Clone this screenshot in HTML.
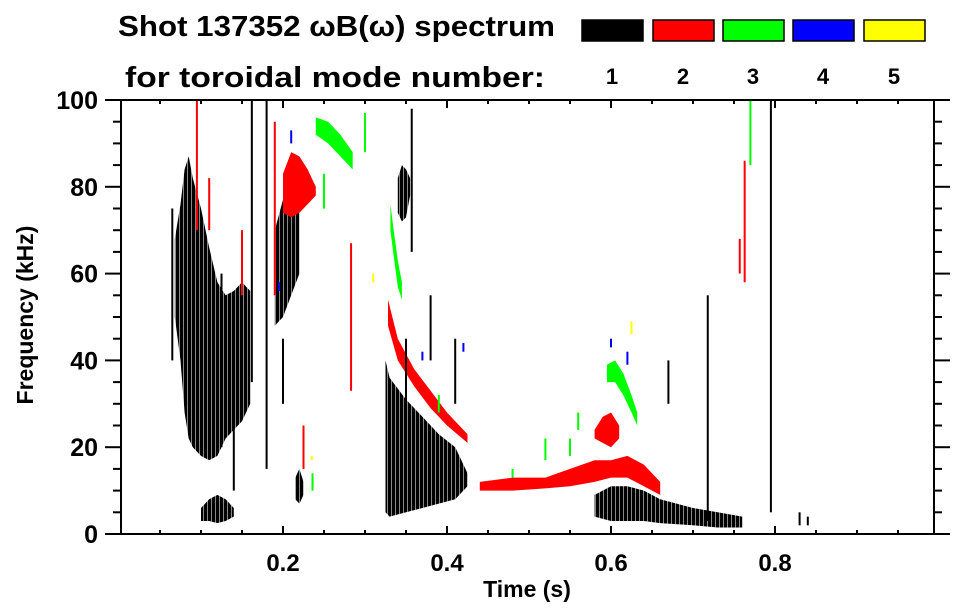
<!DOCTYPE html>
<html><head><meta charset="utf-8"><style>
html,body{margin:0;padding:0;background:#fff;}
svg{display:block;font-family:"Liberation Sans",sans-serif;font-weight:bold;}
</style></head><body>
<svg id="chart" width="963" height="615" viewBox="0 0 963 615">
<defs>
<pattern id="streakK" width="4" height="8" patternUnits="userSpaceOnUse"><rect x="0" y="0" width="3" height="8" fill="#000"/><rect x="3" y="0" width="1" height="8" fill="#888"/></pattern>
</defs>
<text x="118" y="36" font-size="29" textLength="437" lengthAdjust="spacingAndGlyphs">Shot 137352 ωB(ω) spectrum</text>
<text x="125" y="87" font-size="29" textLength="420" lengthAdjust="spacingAndGlyphs">for toroidal mode number:</text>
<g id="legend"></g>
<g id="marks"></g>
<g id="axes"></g>
<text x="527" y="597" font-size="23" text-anchor="middle">Time (s)</text>
<text transform="translate(33,315) rotate(-90)" font-size="23" text-anchor="middle">Frequency (kHz)</text>
</svg>
<script>
const modeNums=[1,2,3,4,5];
const modeColors=['#000000','#ff0000','#00ff00','#0000ff','#ffff00'];
const xTicks=[0.2,0.4,0.6,0.8];
const yTicks=[0,20,40,60,80,100];
// bands: times, lower freq, upper freq, mode
const b1T=[0.068,0.075,0.08,0.085,0.09,0.1,0.11,0.12,0.13,0.14,0.15,0.16];
const b1Lo=[50,40,28,22,20,18,17,18,22,24,26,30];
const b1Hi=[68,76,84,87,82,75,66,58,55,56,58,56];
const b2T=[0.19,0.2,0.21,0.22];
const b2Lo=[48,50,55,60];
const b2Hi=[70,77,78,75];
const b3T=[0.1,0.11,0.12,0.13,0.14];
const b3Lo=[3,3,2.5,3,4];
const b3Hi=[6,8,9,8,6];
const b4T=[0.325,0.33,0.35,0.37,0.39,0.41,0.425];
const b4Lo=[5,4,5,6,7,8,11];
const b4Hi=[40,36,31,27,23,20,14];
const b5T=[0.34,0.345,0.35,0.355];
const b5Lo=[74,72,73,78];
const b5Hi=[82,85,84,82];
const b6T=[0.58,0.6,0.62,0.64,0.66,0.7,0.73,0.76];
const b6Lo=[4,3,3,3,2.5,2,1.5,1.5];
const b6Hi=[9,11,11,10,8,6,5,4];
const b7T=[0.215,0.22,0.225];
const b7Lo=[8,7,9];
const b7Hi=[13,15,12];
const r1T=[0.2,0.21,0.22,0.23,0.24];
const r1Lo=[74,73,74,76,78];
const r1Hi=[83,88,87,84,80];
const r2T=[0.328,0.34,0.36,0.38,0.4,0.425];
const r2Lo=[48,40,34,29,25,21];
const r2Hi=[54,45,38,33,28,23];
const r3T=[0.44,0.48,0.52,0.55,0.58,0.6,0.62,0.64,0.66];
const r3Lo=[10,10,10.5,11,12,13,13,11,9];
const r3Hi=[12,13,13,15,17,17,18,16,12];
const r4T=[0.58,0.59,0.6,0.61];
const r4Lo=[22,21,20,22];
const r4Hi=[24,27,28,25];
const g1T=[0.24,0.255,0.27,0.285];
const g1Lo=[92,90,87,84];
const g1Hi=[96,95,92,88];
const g2T=[0.331,0.335,0.34,0.345];
const g2Lo=[70,64,57,54];
const g2Hi=[76,70,63,58];
const g3T=[0.595,0.605,0.615,0.625,0.632];
const g3Lo=[35,35,32,28,25];
const g3Hi=[39,40,37,32,28];
const bands=[
 [b1T,b1Lo,b1Hi,0],[b2T,b2Lo,b2Hi,0],[b3T,b3Lo,b3Hi,0],[b4T,b4Lo,b4Hi,0],[b5T,b5Lo,b5Hi,0],[b6T,b6Lo,b6Hi,0],[b7T,b7Lo,b7Hi,0],
 [r1T,r1Lo,r1Hi,1],[r2T,r2Lo,r2Hi,1],[r3T,r3Lo,r3Hi,1],[r4T,r4Lo,r4Hi,1],
 [g1T,g1Lo,g1Hi,2],[g2T,g2Lo,g2Hi,2],[g3T,g3Lo,g3Hi,2]];
// isolated streaks: time, f0, f1, mode
const sT=[0.162,0.18,0.357,0.718,0.795,0.35,0.38,0.83,0.84,0.065,0.2,0.095,0.11,0.15,0.283,0.763,0.757,0.225,0.19,0.236,0.3,0.25,0.52,0.55,0.48,0.56,0.77,0.39,0.21,0.6,0.62,0.37,0.42,0.195,0.625,0.235,0.31,0.125,0.14,0.41,0.67];
const sF0=[35,15,65,3,5,20,40,2,2,40,30,70,70,55,33,58,60,15,55,10,88,75,17,18,13,24,85,28,90,43,39,40,42,56,46,17,58,20,10,30,30];
const sF1=[100,100,98,55,100,45,55,5,4,75,45,100,82,70,67,86,68,25,95,14,97,83,22,22,15,28,100,32,93,45,42,42,44,58,49,18,60,60,40,45,40];
const sM=[0,0,0,0,0,0,0,0,0,0,0,1,1,1,1,1,1,1,1,2,2,2,2,2,2,2,2,2,3,3,3,3,3,3,4,4,4,0,0,0,0];
const X0=119,XS=820,Y0=534,YS=4.34;
function xs(t){return X0+XS*t;}
function ys(f){return Y0-YS*f;}
const NS='http://www.w3.org/2000/svg';
const marks=document.getElementById('marks');
bands.forEach((b,i)=>{
  const [T,L,H,m]=b;
  let pts=[];
  for(let k=0;k<T.length;k++)pts.push(xs(T[k]).toFixed(1)+','+ys(H[k]).toFixed(1));
  for(let k=T.length-1;k>=0;k--)pts.push(xs(T[k]).toFixed(1)+','+ys(L[k]).toFixed(1));
  const p=document.createElementNS(NS,'polygon');
  p.setAttribute('points',pts.join(' '));
  p.setAttribute('fill',m===0?'url(#streakK)':modeColors[m]);
  
  
  marks.appendChild(p);
});
for(let k=0;k<sT.length;k++){
  const r=document.createElementNS(NS,'rect');
  r.setAttribute('x',xs(sT[k])-1);
  r.setAttribute('y',ys(sF1[k]));
  r.setAttribute('width',2);
  r.setAttribute('height',Math.max(1,ys(sF0[k])-ys(sF1[k])));
  r.setAttribute('fill',modeColors[sM[k]]);
  
  
  marks.appendChild(r);
}
const axes=document.getElementById('axes');
function line(x1,y1,x2,y2,name){
  const l=document.createElementNS(NS,'line');
  l.setAttribute('x1',x1);l.setAttribute('y1',y1);l.setAttribute('x2',x2);l.setAttribute('y2',y2);
  l.setAttribute('stroke','#000');l.setAttribute('stroke-width',2);
  
  
  axes.appendChild(l);
}
function text(x,y,s,size,anchor,name){
  const t=document.createElementNS(NS,'text');
  t.setAttribute('x',x);t.setAttribute('y',y);t.setAttribute('font-size',size);t.setAttribute('text-anchor',anchor);
  t.textContent=s;
  
  
  axes.appendChild(t);
}
line(105,534,950,534,'x-axis-bottom');
line(105,100,950,100,'x-axis-top');
line(121,100,121,534,'y-axis-left');
line(934,100,934,534,'y-axis-right');
for(let v=0.05;v<0.99;v+=0.05){
  const x=xs(v);const major=Math.abs(v*5-Math.round(v*5))<1e-6;
  const len=major?8:4;
  line(x,534,x,534-len,'x-tick');
  line(x,100,x,100+len,'x-tick-top');
}
xTicks.forEach(v=>text(xs(v),571,v.toFixed(1),24,'middle','x-tick-label'));
for(let v=5;v<100;v+=5){
  const y=ys(v);const len=(v%20===0)?16:8;
  line(121,y,121-len,y,'y-tick');
  line(934,y,934+len,y,'y-tick-right');
}
yTicks.forEach(v=>text(98,ys(v)+9,String(v),25,'end','y-tick-label'));
const lg=document.getElementById('legend');
const lx=[582,653,723,793,864];
modeNums.forEach((n,i)=>{
  const r=document.createElementNS(NS,'rect');
  r.setAttribute('x',lx[i]);r.setAttribute('y',20);r.setAttribute('width',61);r.setAttribute('height',21);
  r.setAttribute('fill',modeColors[i]);r.setAttribute('stroke','#000');r.setAttribute('stroke-width',1.5);
  
  
  lg.appendChild(r);
  const t=document.createElementNS(NS,'text');
  t.setAttribute('x',lx[i]+30);t.setAttribute('y',84);t.setAttribute('font-size',22);t.setAttribute('text-anchor','middle');
  t.textContent=String(n);
  
  
  lg.appendChild(t);
});
</script>
</body></html>
